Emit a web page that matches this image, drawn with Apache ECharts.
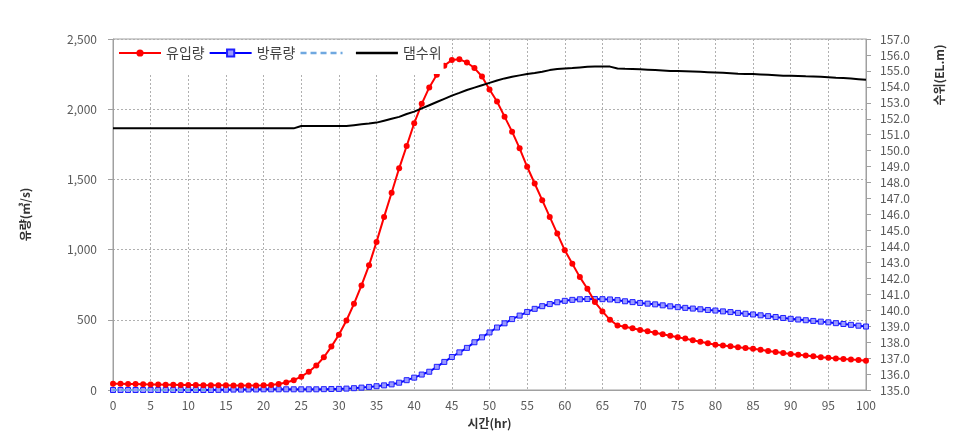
<!DOCTYPE html>
<html>
<head>
<meta charset="utf-8">
<script src="https://cdn.jsdelivr.net/npm/echarts@6/dist/echarts.min.js"></script>
<style>
  html, body { margin: 0; padding: 0; background: #fff; }
  #chart { width: 967px; height: 435px; }
</style>
</head>
<body>
<div id="chart"></div>
<script>
// hours 0..100 (one point per hour)
const hours = Array.from({ length: 101 }, (_, i) => i)

// 유입량 (inflow, m3/s)
const inflow = [
  45, 44, 43, 42, 41, 40, 39, 38, 37, 36,
  36, 35, 34, 34, 33, 33, 32, 32, 32, 32,
  33, 36, 43, 54, 70, 95, 130, 174, 233, 309,
  393, 495, 614, 745, 888, 1055, 1233, 1405, 1579, 1738,
  1900, 2038, 2155, 2245, 2310, 2350, 2355, 2333, 2293, 2233,
  2140, 2055, 1947, 1840, 1721, 1590, 1471, 1352, 1233, 1114,
  995, 900, 804, 721, 626, 560, 500, 459, 450, 440,
  428, 418, 408, 397, 386, 376, 366, 355, 344, 333,
  323, 317, 311, 305, 299, 293, 286, 278, 271, 264,
  257, 251, 246, 240, 234, 229, 225, 221, 217, 213,
  209
]

// 방류량 (outflow, m3/s)
const outflow = [
  0, 0, 0, 0, 0, 0, 0, 0, 0, 0,
  0, 0, 0, 0, 1, 2, 3, 3, 4, 4,
  5, 5, 5, 5, 5, 5, 5, 5, 6, 7,
  8, 10, 13, 17, 22, 27, 33, 40, 52, 70,
  88, 110, 130, 165, 200, 235, 268, 300, 340, 375,
  410, 445, 475, 505, 530, 556, 578, 597, 612, 625,
  635, 642, 646, 648, 648, 647, 645, 640, 632, 626,
  620, 615, 610, 603, 596, 590, 585, 580, 575, 570,
  566, 560, 555, 549, 543, 538, 532, 526, 520, 513,
  507, 502, 497, 492, 487, 482, 476, 470, 464, 458,
  452
]

// dashed light-blue series (only the first hours)
const dashedFlow = [0, 0, 0, 0, 0, 0, 0, 0, 0, 0, 0, 0, 0, 0]

// 댐수위 (dam water level, EL.m)
const level = [
  151.4, 151.4, 151.4, 151.4, 151.4, 151.4, 151.4, 151.4, 151.4, 151.4,
  151.4, 151.4, 151.4, 151.4, 151.4, 151.4, 151.4, 151.4, 151.4, 151.4,
  151.4, 151.4, 151.4, 151.4, 151.4, 151.55, 151.55, 151.55, 151.55, 151.55,
  151.55, 151.55, 151.6, 151.65, 151.7, 151.76, 151.88, 152.0, 152.12, 152.3,
  152.45, 152.65, 152.85, 153.05, 153.25, 153.45, 153.62, 153.8, 153.95, 154.1,
  154.25, 154.4, 154.53, 154.63, 154.72, 154.8, 154.87, 154.95, 155.05, 155.12,
  155.15, 155.18, 155.22, 155.26, 155.28, 155.28, 155.27, 155.15, 155.13, 155.12,
  155.1, 155.08, 155.06, 155.03, 155.0, 155.0, 154.98, 154.96, 154.94, 154.92,
  154.9, 154.88, 154.85, 154.82, 154.8, 154.8, 154.78, 154.76, 154.73, 154.7,
  154.7, 154.68, 154.66, 154.65, 154.63, 154.6, 154.57, 154.55, 154.52, 154.48,
  154.44
]

const pair = (arr) => arr.map((v, i) => [hours[i], v])

const font = 'Noto Sans CJK KR'
const labelColor = '#595959'
const gridLine = { show: true, lineStyle: { color: '#b0b0b0', type: [2, 2], width: 1 } }
// legend entries without a marker
const noMarker = { color: 'rgba(0,0,0,0)', borderColor: 'rgba(0,0,0,0)', borderWidth: 0 }

const chart = echarts.init(document.getElementById('chart'))
chart.setOption({
  animation: false,
  textStyle: { fontFamily: font },
  grid: {
    left: 113, right: 101, top: 39, bottom: 45,
    show: true, borderColor: '#a0a0a0', borderWidth: 1
  },
  legend: {
    left: 114, top: 40,
    padding: [6, 2, 14, 4],
    backgroundColor: '#fff',
    itemWidth: 42, itemHeight: 9, itemGap: 4,
    textStyle: { fontSize: 14, color: '#404040', fontFamily: font },
    data: [
      '유입량',
      '방류량',
      { name: ' ', itemStyle: noMarker, lineStyle: { width: 2.5, type: [6, 4] } },
      { name: '댐수위', itemStyle: noMarker, lineStyle: { width: 2.5 } }
    ]
  },
  xAxis: {
    type: 'value', min: 0, max: 100, interval: 5,
    name: '시간(hr)', nameLocation: 'middle', nameGap: 27,
    nameTextStyle: { fontSize: 12, color: '#333', fontWeight: 'bold' },
    axisLine: { lineStyle: { color: '#a0a0a0' } },
    axisTick: { show: false },
    axisLabel: { fontSize: 12, color: labelColor, margin: 9 },
    splitLine: gridLine
  },
  yAxis: [
    {
      type: 'value', min: 0, max: 2500, interval: 500,
      name: '유량(㎥/s)', nameLocation: 'middle', nameGap: 82,
      nameTextStyle: { fontSize: 12, color: '#333', fontWeight: 'bold' },
      axisLine: { show: true, lineStyle: { color: '#a0a0a0' } },
      axisTick: { show: true, length: 5, lineStyle: { color: '#a0a0a0' } },
      axisLabel: {
        fontSize: 12, color: labelColor, margin: 16,
        formatter: (v) => v.toLocaleString('en-US')
      },
      splitLine: gridLine
    },
    {
      type: 'value', min: 135, max: 157, interval: 1,
      axisLine: { show: true, lineStyle: { color: '#a0a0a0' } },
      axisTick: { show: true, length: 5, lineStyle: { color: '#a0a0a0' } },
      axisLabel: {
        fontSize: 12, color: labelColor, margin: 14,
        formatter: (v) => v.toFixed(1)
      },
      splitLine: { show: false }
    }
  ],
  graphic: [
    {
      type: 'text', x: 939, y: 75, rotation: Math.PI / 2,
      style: {
        text: '수위(EL.m)', fill: '#333', font: 'bold 12px "Noto Sans CJK KR"',
        align: 'center', verticalAlign: 'middle'
      }
    }
  ],
  series: [
    {
      name: '유입량', type: 'line', yAxisIndex: 0,
      data: pair(inflow),
      symbol: 'circle', symbolSize: 6,
      lineStyle: { color: '#ff0000', width: 2 },
      itemStyle: { color: '#ff0000' },
      z: 3
    },
    {
      name: '방류량', type: 'line', yAxisIndex: 0,
      data: pair(outflow),
      symbol: 'rect', symbolSize: 5,
      lineStyle: { color: '#0000ff', width: 2 },
      itemStyle: { color: '#9a9aff', borderColor: '#2020ff', borderWidth: 1 },
      z: 2
    },
    {
      name: ' ', type: 'line', yAxisIndex: 0,
      data: pair(dashedFlow),
      symbol: 'none',
      lineStyle: { color: '#6fa8e0', width: 2, type: [5, 3] },
      itemStyle: { color: '#6fa8e0' },
      z: 4
    },
    {
      name: '댐수위', type: 'line', yAxisIndex: 1,
      data: pair(level),
      symbol: 'none',
      lineStyle: { color: '#000', width: 2 },
      itemStyle: { color: '#000' },
      z: 3
    }
  ]
})
</script>
</body>
</html>
